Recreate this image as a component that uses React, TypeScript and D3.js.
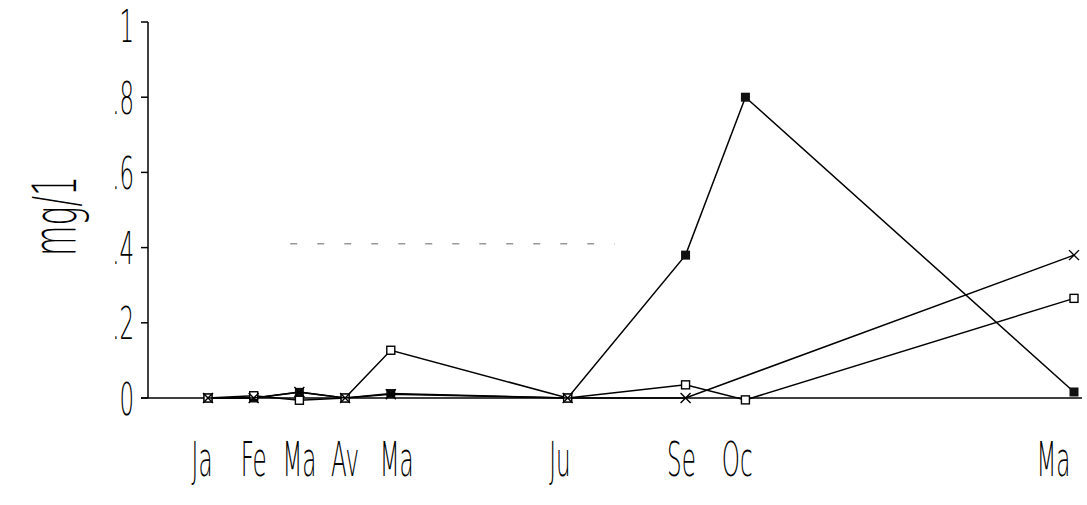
import React from "react";
import * as d3 from "d3";

// sample positions in months since January (irregular sampling dates)
const sampleX = [0, 1, 2, 3, 4, 7.87, 10.45, 11.76, 18.95];
const monthLabels = ["Ja", "Fe", "Ma", "Av", "Ma", "Ju", "Se", "Oc", "Ma"];
const labelX = [-0.13, 1.0, 2.0, 3.0, 4.13, 7.7, 10.36, 11.58, 18.5];

const filledSeries: (number | null)[] = [0, 0, 0.015, 0, 0.012, 0, 0.38, 0.8, 0.016];
const openSeries: (number | null)[] = [0, 0.006, -0.006, 0, 0.127, 0, 0.035, -0.005, 0.265];
const crossSeries: (number | null)[] = [0, 0, 0.016, 0, 0.01, 0, 0, null, 0.38];

const yTicks = [0, 0.2, 0.4, 0.6, 0.8, 1];
const yTickLabels = ["0", ".2", ".4", ".6", ".8", "1"];

const W = 1087;
const H = 505;
const FONT = "'DejaVu Sans', sans-serif";

export default function App() {
  const x = d3.scaleLinear().domain([0, 18.95]).range([208, 1074]);
  const y = d3.scaleLinear().domain([0, 1]).range([398, 22]);
  const axisX = 148;

  const pts = (vals: (number | null)[]) =>
    sampleX
      .map((sx, i) => ({ sx, v: vals[i] }))
      .filter((p) => p.v !== null) as { sx: number; v: number }[];

  const line = d3
    .line<{ sx: number; v: number }>()
    .x((d) => x(d.sx))
    .y((d) => y(d.v));

  const series = [
    { vals: filledSeries, kind: "filled" },
    { vals: openSeries, kind: "open" },
    { vals: crossSeries, kind: "cross" },
  ];

  return (
    <svg width={W} height={H} style={{ position: "absolute", left: 0, top: 0, background: "#fff" }}>
      <rect width={W} height={H} fill="#fff" />
      {/* y axis */}
      <line x1={axisX} x2={axisX} y1={y(1)} y2={y(0)} stroke="#000" strokeWidth={1.5} />
      {yTicks.map((t) => (
        <line key={t} x1={axisX - 7} x2={axisX} y1={y(t)} y2={y(t)} stroke="#000" strokeWidth={1.5} />
      ))}
      {/* baseline */}
      <line x1={axisX - 7} x2={1082} y1={y(0)} y2={y(0)} stroke="#000" strokeWidth={1.5} />
      {/* faint scan artifact */}
      <line x1={x(1.8)} x2={x(8.9)} y1={y(0.41)} y2={y(0.41)} stroke="#666" strokeWidth={1} strokeDasharray="7 20" />
      {yTicks.map((t, i) => (
        <g key={"l" + t} transform={`translate(134,${Math.max(y(t) + 16.5, 41.5)}) scale(0.52,1)`}>
          <text textAnchor="end" fontFamily={FONT} fontSize={44} fontWeight={200} fill="#000">
            {yTickLabels[i]}
          </text>
        </g>
      ))}
      <g transform={`translate(76,216) rotate(-90)`}>
        <text
          textAnchor="middle"
          fontFamily={FONT}
          fontSize={60}
          fontWeight={200}
          textLength={80}
          lengthAdjust="spacingAndGlyphs"
          x={0}
          y={0}
          fill="#000"
        >
          mg/1
        </text>
      </g>
      {monthLabels.map((m, i) => (
        <g key={"m" + i} transform={`translate(${x(labelX[i])},476) scale(0.48,1)`}>
          <text textAnchor="middle" fontFamily={FONT} fontSize={48} fontWeight={200} fill="#000">
            {m}
          </text>
        </g>
      ))}
      {series.map((s, si) => {
        const p = pts(s.vals);
        return (
          <g key={si}>
            <path d={line(p) || ""} fill="none" stroke="#000" strokeWidth={1.5} />
            {p.map((d, i) => {
              const cx = x(d.sx);
              const cy = y(d.v);
              if (s.kind === "filled")
                return <rect key={i} x={cx - 4.5} y={cy - 4.5} width={9} height={9} fill="#111" />;
              if (s.kind === "open")
                return (
                  <rect key={i} x={cx - 4} y={cy - 4} width={8} height={8} fill="#fff" stroke="#000" strokeWidth={1.4} />
                );
              return (
                <g key={i} stroke="#000" strokeWidth={1.4}>
                  <line x1={cx - 5} x2={cx + 5} y1={cy - 5} y2={cy + 5} />
                  <line x1={cx - 5} x2={cx + 5} y1={cy + 5} y2={cy - 5} />
                </g>
              );
            })}
          </g>
        );
      })}
    </svg>
  );
}
